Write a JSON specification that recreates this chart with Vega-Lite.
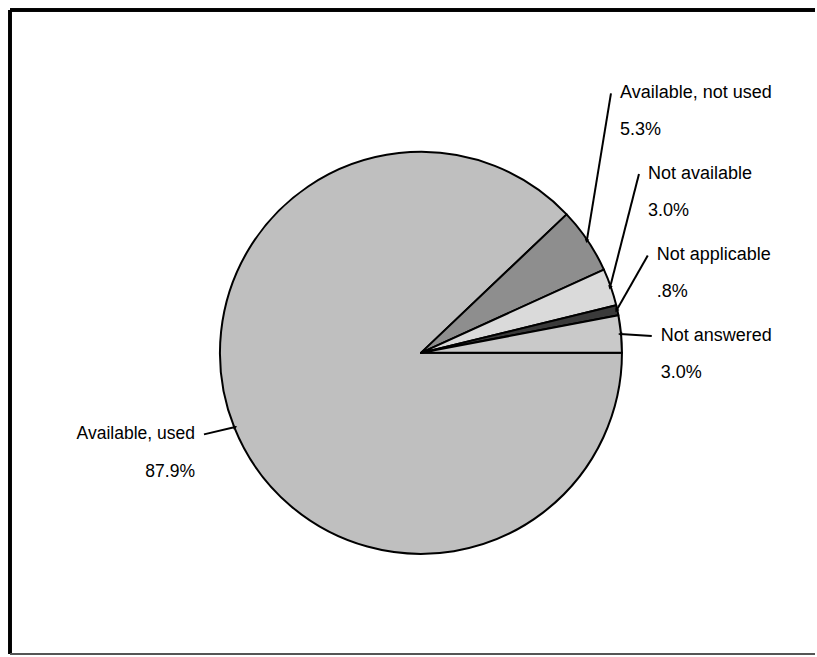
{
  "$schema": "https://vega.github.io/schema/vega-lite/v6.json",
  "width": 817,
  "height": 657,
  "autosize": {"type": "fit", "contains": "padding"},
  "padding": {"left": 8, "top": 8, "right": 0, "bottom": 1},
  "background": "white",
  "config": {"view": {"stroke": null}},
  "data": {
    "values": [
      {"category": "Available, used", "pct": 87.9},
      {"category": "Available, not used", "pct": 5.3},
      {"category": "Not available", "pct": 3.0},
      {"category": "Not applicable", "pct": 0.8},
      {"category": "Not answered", "pct": 3.0}
    ]
  },
  "transform": [
    {"stack": "pct", "groupby": [], "as": ["start", "end"]},
    {"calculate": "(datum.start + datum.end) / 2", "as": "mid"},
    {"calculate": "PI / 2 + 2 * PI * datum.mid / 100", "as": "ang"},
    {"calculate": "sin(datum.ang)", "as": "ex"},
    {"calculate": "cos(datum.ang)", "as": "ey"},
    {"calculate": "indexof(['Available, used','Available, not used','Not available','Not applicable','Not answered'], datum.category)", "as": "k"},
    {"calculate": "[-1.085, 0.950, 1.090, 1.134, 1.154][datum.k]", "as": "ax"},
    {"calculate": "[-0.408, 1.299, 0.896, 0.488, 0.085][datum.k]", "as": "ay"},
    {"calculate": "atan2(datum.ex - datum.ax, datum.ey - datum.ay) * 180 / PI", "as": "arrowAngle"},
    {"calculate": "datum.category + '\\n' + (datum.pct < 1 ? substring(format(datum.pct, '.1f'), 1) : format(datum.pct, '.1f')) + '%'", "as": "label"}
  ],
  "layer": [
    {
      "mark": {"type": "arc", "radius": 201, "stroke": "#000", "strokeWidth": 2, "strokeJoin": "round"},
      "encoding": {
        "x": {"datum": 0, "type": "quantitative", "scale": {"domain": [-2.0547, 1.9701], "nice": false, "zero": false}, "axis": null},
        "y": {"datum": 0, "type": "quantitative", "scale": {"domain": [-1.5075, 1.7164], "nice": false, "zero": false}, "axis": null},
        "theta": {"field": "start", "type": "quantitative", "stack": null, "scale": {"domain": [0, 100], "range": [1.5707963, 7.8539816]}},
        "theta2": {"field": "end"},
        "color": {
          "field": "category", "type": "nominal", "legend": null,
          "scale": {
            "domain": ["Available, used", "Available, not used", "Not available", "Not applicable", "Not answered"],
            "range": ["#bfbfbf", "#8e8e8e", "#dadada", "#3a3a3a", "#c9c9c9"]
          }
        }
      }
    },
    {
      "mark": {"type": "rule", "color": "#000", "strokeWidth": 2},
      "encoding": {
        "x": {"field": "ex", "type": "quantitative", "scale": {"domain": [-2.0547, 1.9701], "nice": false, "zero": false}, "axis": null},
        "y": {"field": "ey", "type": "quantitative", "scale": {"domain": [-1.5075, 1.7164], "nice": false, "zero": false}, "axis": null},
        "x2": {"field": "ax"},
        "y2": {"field": "ay"}
      }
    },
    {
      "mark": {"type": "point", "shape": "triangle-up", "filled": true, "color": "#000", "size": 22, "opacity": 1},
      "encoding": {
        "x": {"field": "ex", "type": "quantitative", "scale": {"domain": [-2.0547, 1.9701], "nice": false, "zero": false}, "axis": null},
        "y": {"field": "ey", "type": "quantitative", "scale": {"domain": [-1.5075, 1.7164], "nice": false, "zero": false}, "axis": null},
        "angle": {"field": "arrowAngle", "type": "quantitative", "scale": null}
      }
    },
    {
      "transform": [{"filter": "datum.ax > 0"}],
      "mark": {"type": "text", "align": "left", "baseline": "middle", "dx": 9, "lineBreak": "\n", "lineHeight": 37, "font": "Liberation Sans", "fontSize": 18, "color": "#000"},
      "encoding": {
        "x": {"field": "ax", "type": "quantitative", "scale": {"domain": [-2.0547, 1.9701], "nice": false, "zero": false}, "axis": null},
        "y": {"field": "ay", "type": "quantitative", "scale": {"domain": [-1.5075, 1.7164], "nice": false, "zero": false}, "axis": null},
        "text": {"field": "label"}
      }
    },
    {
      "transform": [{"filter": "datum.ax < 0"}],
      "mark": {"type": "text", "align": "right", "baseline": "middle", "dx": -9, "lineBreak": "\n", "lineHeight": 38, "font": "Liberation Sans", "fontSize": 17.5, "color": "#000"},
      "encoding": {
        "x": {"field": "ax", "type": "quantitative", "scale": {"domain": [-2.0547, 1.9701], "nice": false, "zero": false}, "axis": null},
        "y": {"field": "ay", "type": "quantitative", "scale": {"domain": [-1.5075, 1.7164], "nice": false, "zero": false}, "axis": null},
        "text": {"field": "label"}
      }
    },
    {
      "mark": {"type": "rule", "color": "#000", "strokeWidth": 3},
      "encoding": {
        "y": {"datum": 1.7164, "type": "quantitative", "scale": {"domain": [-1.5075, 1.7164], "nice": false, "zero": false}, "axis": null}
      }
    },
    {
      "mark": {"type": "rule", "color": "#000", "strokeWidth": 3},
      "encoding": {
        "x": {"datum": -2.0547, "type": "quantitative", "scale": {"domain": [-2.0547, 1.9701], "nice": false, "zero": false}, "axis": null}
      }
    },
    {
      "mark": {"type": "rule", "color": "#555", "strokeWidth": 2},
      "encoding": {
        "y": {"datum": -1.5075, "type": "quantitative", "scale": {"domain": [-1.5075, 1.7164], "nice": false, "zero": false}, "axis": null}
      }
    }
  ]
}
